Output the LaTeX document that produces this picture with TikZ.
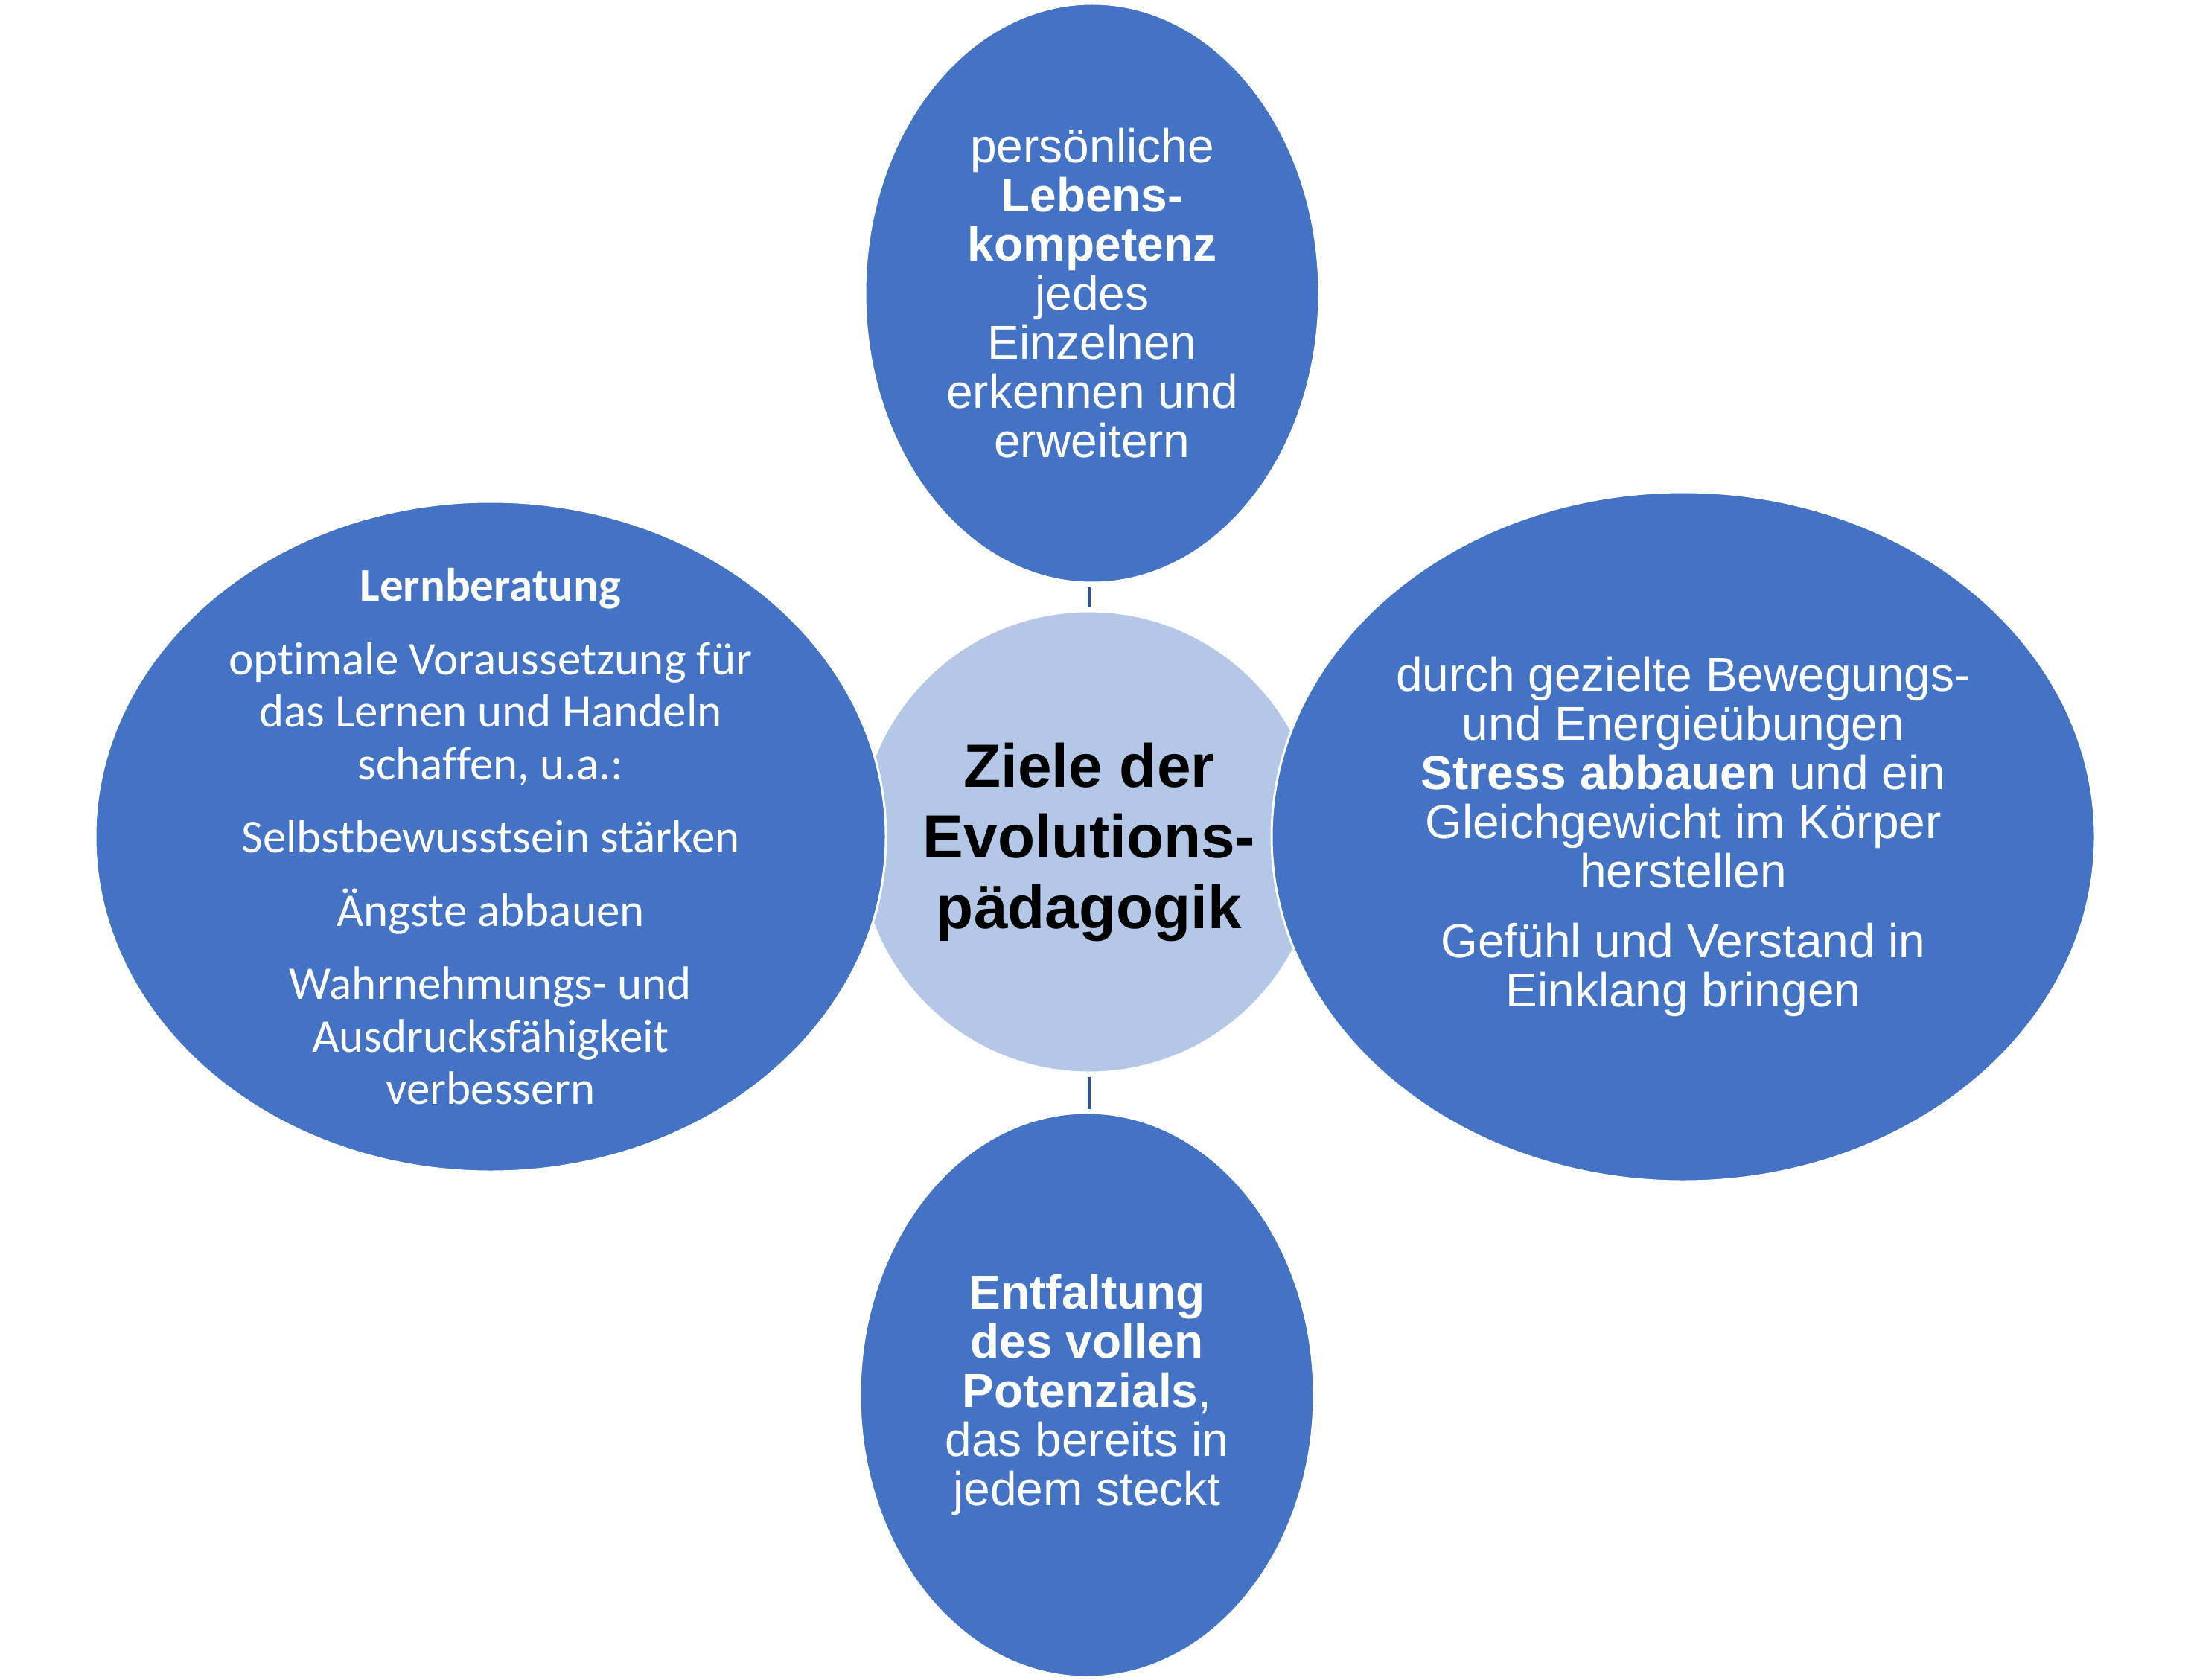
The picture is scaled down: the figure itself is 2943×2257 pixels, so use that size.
\documentclass[tikz,border=0pt]{standalone}
\usepackage{fontspec}
\setmainfont{Liberation Sans}
\newfontfamily\calibri[Ligatures=NoCommon]{Carlito}
\usepackage{tikz}
\usepackage{xcolor}
\usetikzlibrary{shapes.geometric}
\definecolor{zielblau}{HTML}{4472C4}
\definecolor{hubblau}{HTML}{B4C7E7}
\definecolor{linienblau}{HTML}{2F5597}
\tikzset{
  ziel/.style={ellipse,fill=zielblau,draw=white,line width=1.5pt,text=white,inner sep=0pt,align=center,font=\fontsize{32pt}{33pt}\selectfont},
  zieltext/.style={text=white,inner sep=0pt,align=center},
  verbinder/.style={draw=linienblau,line width=2pt,shorten <=2pt,shorten >=2pt}
}

\begin{document}
\begin{tikzpicture}[x=0.5pt,y=-0.5pt]
\useasboundingbox (0,0) rectangle (2943,2257);
\node[circle,fill=hubblau,draw=white,line width=1.5pt,minimum size=310pt,inner sep=0pt,align=center,font=\fontsize{41pt}{47.5pt}\selectfont\bfseries] (hub) at (1463,1131) {Ziele der\\Evolutions-\\pädagogik};
\node[ziel,minimum width=305pt,minimum height=389pt] (oben) at (1467,394) {persönliche\\\textbf{Lebens-}\\\textbf{kompetenz}\\jedes\\Einzelnen\\erkennen und\\erweitern};
\node[ziel,minimum width=531pt,minimum height=450pt] (links) at (659,1124) {};
\node[zieltext,font=\calibri\fontsize{31.5pt}{35.25pt}\selectfont] (linkstext) at (links.center) {\textbf{Lernberatung}\\[14pt]optimale Voraussetzung für\\das Lernen und Handeln\\schaffen, u.a.:\\[14pt]Selbstbewusstsein stärken\\[14pt]Ängste abbauen\\[14pt]Wahrnehmungs- und\\Ausdrucksfähigkeit\\verbessern};
\node[ziel,minimum width=553pt,minimum height=463pt] (rechts) at (2261,1124) {durch gezielte Bewegungs-\\und Energieübungen\\\textbf{Stress abbauen} und ein\\Gleichgewicht im Körper\\herstellen\\[14pt]Gefühl und Verstand in\\Einklang bringen};
\node[ziel,minimum width=305pt,minimum height=379pt] (unten) at (1460,1874) {\textbf{Entfaltung}\\\textbf{des vollen}\\\textbf{Potenzials},\\das bereits in\\jedem steckt};
\draw[verbinder] (hub.north) -- (hub.north |- oben.south);
\draw[verbinder] (hub.south) -- (hub.south |- unten.north);
\end{tikzpicture}
\end{document}
